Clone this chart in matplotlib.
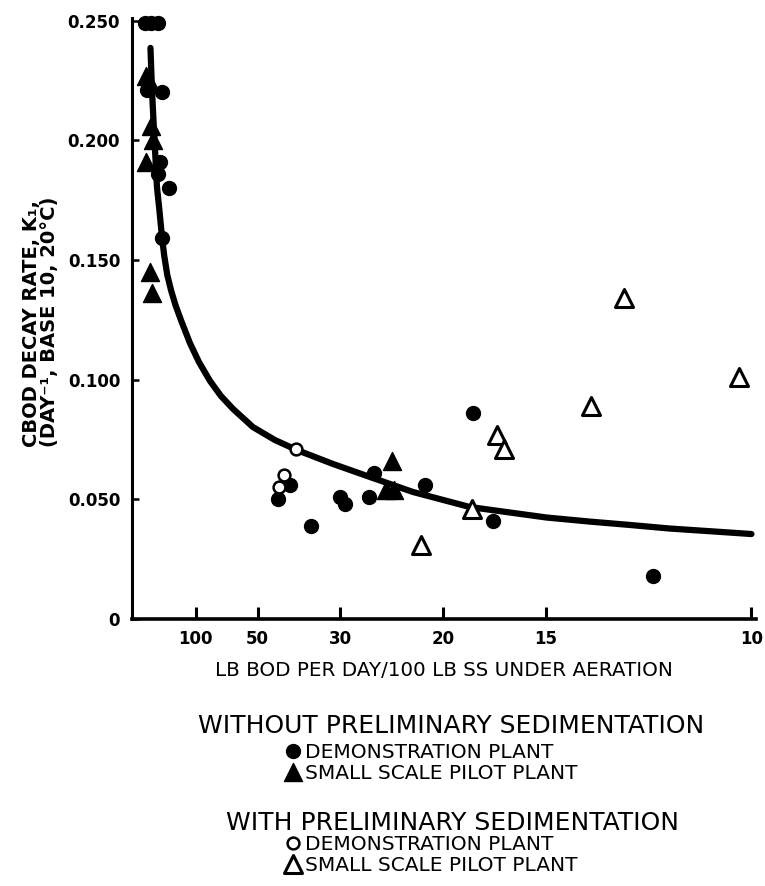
import numpy as np
import matplotlib
matplotlib.use("Agg")
import matplotlib.pyplot as plt
from matplotlib.markers import MarkerStyle
from matplotlib.ticker import NullLocator

# ---------------- data (x = LB BOD per day / 100 LB SS, y = K1) ----------------
demo_wo_x = [573, 368, 260, 483, 222, 240, 260, 178, 222,
             43.0, 39.7, 34.9, 30.0, 29.3, 26.3, 25.7, 21.2, 18.2, 17.2, 11.9]
demo_wo_k = [0.249, 0.249, 0.249, 0.221, 0.220, 0.191, 0.186, 0.180, 0.159,
             0.050, 0.056, 0.039, 0.051, 0.048, 0.051, 0.061, 0.056, 0.086, 0.041, 0.018]

pilot_wo_x = [524, 392, 368, 329, 524, 392, 347, 23.9, 24.5, 23.8]
pilot_wo_k = [0.227, 0.224, 0.206, 0.200, 0.191, 0.145, 0.136, 0.066, 0.054, 0.054]

demo_w_x = [38.2, 41.2, 42.7]
demo_w_k = [0.071, 0.060, 0.055]

pilot_w_x = [21.5, 18.3, 17.0, 16.7, 13.5, 12.6, 10.2]
pilot_w_k = [0.031, 0.046, 0.077, 0.071, 0.089, 0.134, 0.101]

curve_x = [379.5, 347.5, 312.3, 271.2, 243.4, 222.4, 205.4, 186.8, 168.0, 149.7,
           132.1, 110.8, 95.4, 81.5, 71.2, 62.5, 52.0, 43.9, 37.95, 31.08, 26.54,
           22.16, 18.40, 14.97, 13.55, 12.46, 11.53, 10.67, 10.0]
curve_k = [0.2386, 0.2211, 0.2043, 0.1805, 0.1701, 0.1596, 0.1517, 0.1438, 0.1375,
           0.1312, 0.1249, 0.1153, 0.1074, 0.0995, 0.0932, 0.0878, 0.0802, 0.0748,
           0.0706, 0.0648, 0.0598, 0.0531, 0.0468, 0.0424, 0.0407, 0.0393, 0.0378,
           0.0366, 0.0355]

xtick_vals = [100, 50, 30, 20, 15, 10]
xtick_labels = ["100", "50", "30", "20", "15", "10"]
ytick_vals = [0, 0.05, 0.10, 0.15, 0.20, 0.25]
ytick_labels = ["0", "0.050", "0.100", "0.150", "0.200", "0.250"]

legend_labels = ["DEMONSTRATION PLANT", "SMALL SCALE PILOT PLANT"]
header_without = "WITHOUT PRELIMINARY SEDIMENTATION"
header_with = "WITH PRELIMINARY SEDIMENTATION"
xlabel = "LB BOD PER DAY/100 LB SS UNDER AERATION"
ylabel = "CBOD DECAY RATE, K\u2081,\n(DAY\u207b\u00b9, BASE 10, 20\u00b0C)"

# ---------------- figure ----------------
W, H = 765, 886
fig = plt.figure(figsize=(W / 100, H / 100), dpi=100)
ax = fig.add_axes([132 / W, 1 - 619 / H, (755.5 - 132) / W, (619 - 18) / H])


def recip(x):
    x = np.asarray(x, dtype=float)
    with np.errstate(divide="ignore", invalid="ignore"):
        return 1.0 / x


ax.set_xscale("function", functions=(recip, recip))

ax.plot(curve_x, curve_k, color="black", lw=4.5, solid_capstyle="round",
        solid_joinstyle="round", zorder=2)
tri = MarkerStyle("^", joinstyle="round")
h1, = ax.plot(demo_wo_x, demo_wo_k, ls="none", marker="o", ms=10, mfc="black",
              mec="black", clip_on=False, zorder=3)
h2, = ax.plot(pilot_wo_x, pilot_wo_k, ls="none", marker=tri, ms=13, mfc="black",
              mec="black", clip_on=False, zorder=3)
h3, = ax.plot(demo_w_x, demo_w_k, ls="none", marker="o", ms=8.5, mfc="white",
              mec="black", mew=1.8, zorder=4)
h4, = ax.plot(pilot_w_x, pilot_w_k, ls="none", marker=tri, ms=12.5, mfc="white",
              mec="black", mew=2.2, zorder=4)

ax.set_xticks(xtick_vals)
ax.set_xticklabels(xtick_labels, fontweight="bold", fontsize=12)
ax.xaxis.set_minor_locator(NullLocator())
ax.set_yticks(ytick_vals)
ax.set_yticklabels(ytick_labels, fontweight="bold", fontsize=12)
ax.yaxis.set_minor_locator(NullLocator())
ax.tick_params(axis="x", direction="in", length=9, width=2.2, pad=8)
ax.tick_params(axis="y", direction="in", length=5, width=1.8, pad=8.5)

# limits after ticks (set_ticks may widen the view)
ax.set_xlim(-2800, 9.935)
ax.set_ylim(0, 0.2511)

for s in ("top", "right"):
    ax.spines[s].set_visible(False)
ax.spines["left"].set_linewidth(2.2)
ax.spines["bottom"].set_linewidth(2.6)

fig.text(443.5 / W, 1 - 676 / H, xlabel, ha="center", va="baseline", fontsize=14.3)
fig.text(40.5 / W, 1 - 447 / H, ylabel, rotation=90, ha="center", va="bottom",
         multialignment="left", fontweight="bold", fontsize=14, linespacing=0.95)

fig.text(451 / W, 1 - 733 / H, header_without, ha="center", va="baseline", fontsize=18)
fig.text(453 / W, 1 - 830 / H, header_with, ha="center", va="baseline", fontsize=18)

leg_kw = dict(loc="upper left", bbox_transform=fig.transFigure, frameon=False,
              fontsize=14.5, handlelength=1.0, handletextpad=0.1, labelspacing=0.1,
              borderpad=0, borderaxespad=0, numpoints=1)
leg1 = ax.legend([h1, h2], legend_labels, bbox_to_anchor=(283.0 / W, 1 - 743 / H), **leg_kw)
ax.add_artist(leg1)
leg2 = ax.legend([h3, h4], legend_labels, bbox_to_anchor=(283.0 / W, 1 - 835 / H), **leg_kw)

fig.savefig("out.png", dpi=100)
